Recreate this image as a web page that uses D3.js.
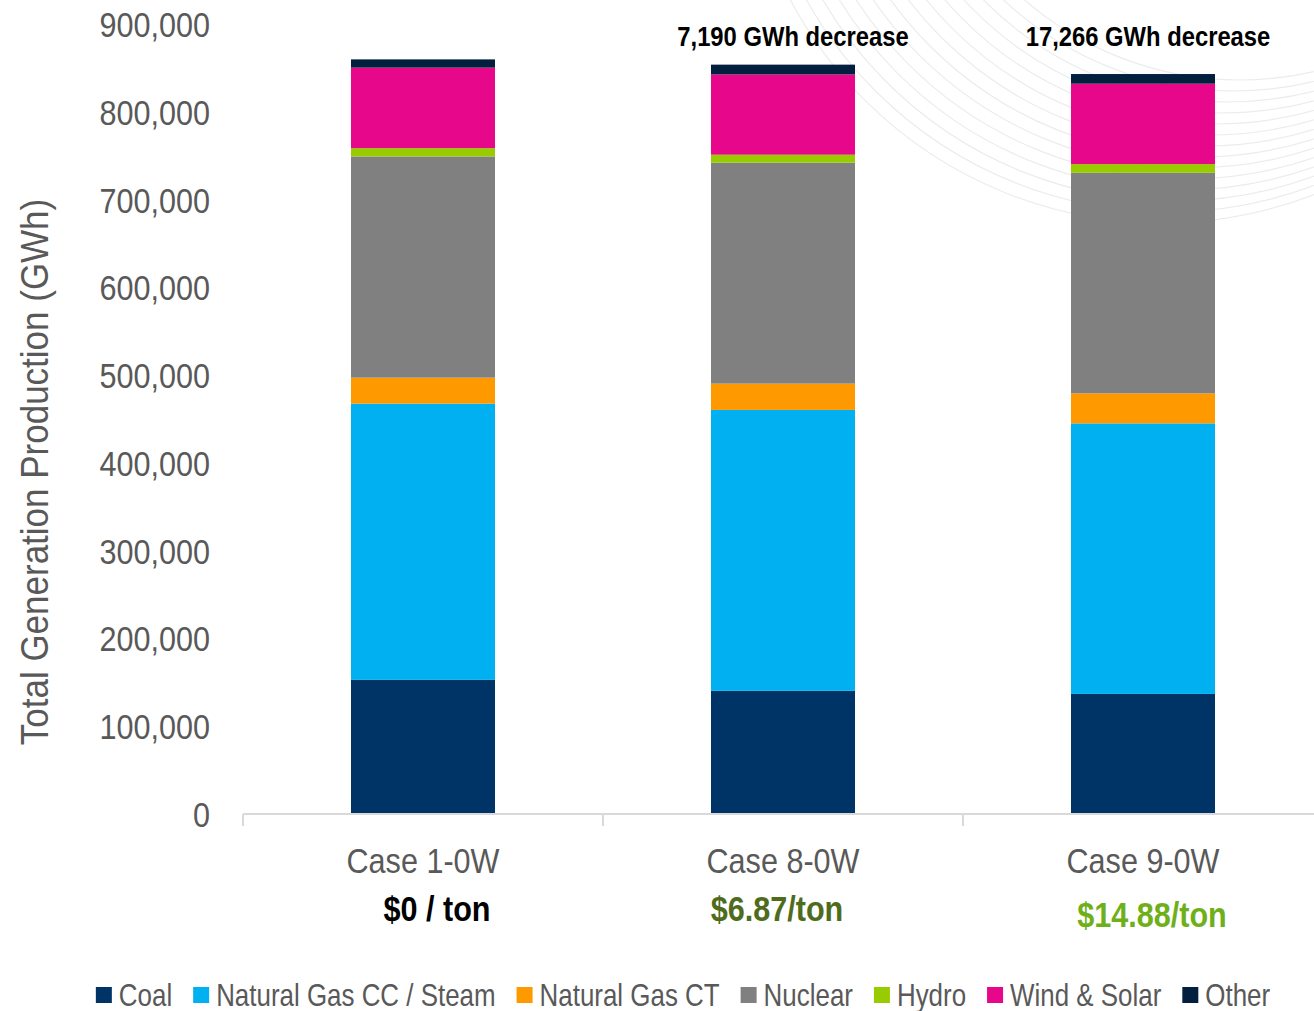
<!DOCTYPE html>
<html>
<head>
<meta charset="utf-8">
<script src="https://cdn.jsdelivr.net/npm/d3@7"></script>
<style>
  body { margin: 0; background: #fff; }
  text { font-family: "Liberation Sans", Arial, sans-serif; }
</style>
</head>
<body>
<svg id="chart" width="1314" height="1011"></svg>
<script>
// data
var cases = ["Case 1-0W", "Case 8-0W", "Case 9-0W"];
var prices = ["$0 / ton", "$6.87/ton", "$14.88/ton"];
var priceColors = ["#000000", "#4f6b1c", "#6fb01a"];
var notes = ["", "7,190 GWh decrease", "17,266 GWh decrease"];
var series = ["Coal", "Natural Gas CC / Steam", "Natural Gas CT", "Nuclear", "Hydro", "Wind & Solar", "Other"];
var colors = ["#003366", "#00b0f0", "#ff9900", "#808080", "#99cc00", "#e6078a", "#021f3d"];
var coal = [152800, 140300, 136800];
var gasCC = [314700, 320000, 308200];
var gasCT = [29600, 30000, 34200];
var nuclear = [252000, 251700, 251300];
var hydro = [9500, 9100, 9900];
var windSolar = [91700, 91500, 91600];
var other = [9400, 11100, 11000];
var yTicks = [0, 100000, 200000, 300000, 400000, 500000, 600000, 700000, 800000, 900000];

var svg = d3.select("#chart");
var squeeze = 0.85; // reference text is horizontally compressed
var grey = "#595959";

var values = [coal, gasCC, gasCT, nuclear, hydro, windSolar, other];
var rows = cases.map(function (c, i) {
  var r = { name: c };
  series.forEach(function (s, k) { r[s] = values[k][i]; });
  return r;
});

var x = d3.scaleBand().domain(cases).range([243, 1323]).paddingInner(0.6).paddingOuter(0.3);
var y = d3.scaleLinear().domain([0, 900000]).range([814, 24]);

// faint decorative arcs, top right
var deco = svg.append("g").attr("fill", "none").attr("stroke", "#ececec").attr("stroke-width", 1.2);
d3.range(14).forEach(function (k) {
  deco.append("circle")
    .attr("cx", 1240 - k * 6)
    .attr("cy", -250 + k * 4)
    .attr("r", 330 + k * 7);
});

// stacked bars
var stacked = d3.stack().keys(series)(rows);
svg.append("g")
  .selectAll("g")
  .data(stacked)
  .enter()
  .append("g")
  .attr("fill", function (d, i) { return colors[i]; })
  .selectAll("rect")
  .data(function (d) { return d; })
  .enter()
  .append("rect")
  .attr("x", function (d) { return x(d.data.name); })
  .attr("width", x.bandwidth())
  .attr("y", function (d) { return y(d[1]); })
  .attr("height", function (d) { return y(d[0]) - y(d[1]); });

function addText(g, tx, ty, str) {
  return g.append("text")
    .attr("transform", "translate(" + tx + "," + ty + ") scale(" + squeeze + ",1)")
    .text(str);
}

// y tick labels
var yg = svg.append("g").attr("fill", grey).attr("font-size", 36).attr("text-anchor", "end");
yTicks.forEach(function (t) {
  addText(yg, 210, y(t), d3.format(",")(t)).attr("dy", "0.36em");
});

// y axis title
svg.append("text")
  .attr("transform", "translate(48,472) rotate(-90) scale(1,1.1)")
  .attr("text-anchor", "middle")
  .attr("font-size", 35)
  .attr("fill", grey)
  .text("Total Generation Production (GWh)");

// x axis line and ticks
var step = x.step();
var xa = svg.append("g").attr("stroke", "#d9d9d9").attr("stroke-width", 2);
xa.append("line").attr("x1", 243).attr("x2", 1323).attr("y1", 814).attr("y2", 814);
[0, 1, 2, 3].forEach(function (k) {
  xa.append("line").attr("x1", 243 + k * step).attr("x2", 243 + k * step).attr("y1", 814).attr("y2", 826);
});

// category labels
var priceShift = [14, -6, 9];
var xg = svg.append("g").attr("text-anchor", "middle");
cases.forEach(function (c, i) {
  var cx = x(c) + x.bandwidth() / 2;
  addText(xg, cx, 860, c).attr("dy", "0.36em").attr("font-size", 36).attr("fill", grey);
  addText(xg, cx + priceShift[i], i === 2 ? 914 : 908, prices[i])
    .attr("dy", "0.36em").attr("font-size", 36).attr("font-weight", "bold").attr("fill", priceColors[i]);
  if (notes[i]) {
    addText(xg, cx + (i === 1 ? 10 : 5), 36, notes[i])
      .attr("dy", "0.36em").attr("font-size", 28).attr("font-weight", "bold").attr("fill", "#000");
  }
});

// legend
var lg = svg.append("g").attr("font-size", 30.5).attr("fill", grey);
var items = series.map(function (s, i) {
  var g = lg.append("g");
  g.append("rect").attr("width", 16).attr("height", 16).attr("y", -8).attr("fill", colors[i]);
  addText(g, 23, 0, s).attr("dy", "0.36em");
  return g;
});
var widths = items.map(function (g) {
  return 23 + g.select("text").node().getComputedTextLength() * squeeze;
});
var gap = 21;
var total = d3.sum(widths) + gap * (widths.length - 1);
var lx = 683 - total / 2;
items.forEach(function (g, i) {
  g.attr("transform", "translate(" + lx + ",995)");
  lx += widths[i] + gap;
});
</script>
</body>
</html>
